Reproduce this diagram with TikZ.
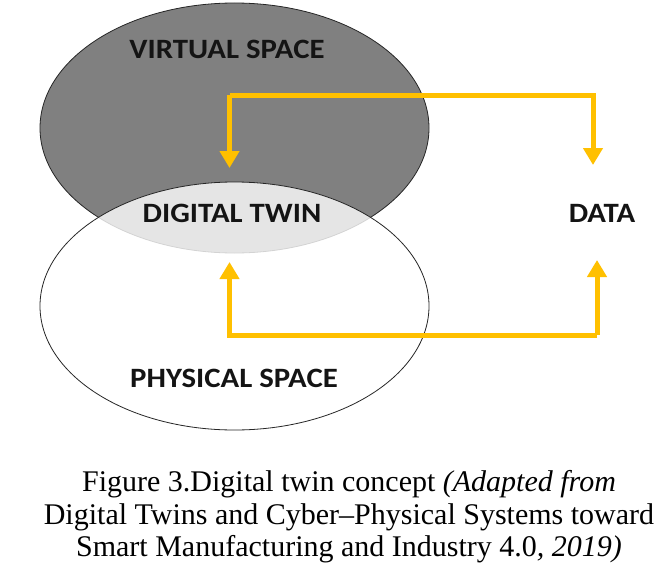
\documentclass[tikz,border=0pt]{standalone}
\usepackage{fontspec}
\setmainfont{Liberation Serif}
\newfontfamily\lblfont{Carlito}
\usetikzlibrary{arrows.meta}
\definecolor{flowgold}{HTML}{FFC000}
\definecolor{virtgray}{HTML}{808080}
\newcommand{\widelbl}[1]{\scalebox{1.1}[1]{#1}}
\tikzset{
  lbl/.style={font=\lblfont\bfseries\fontsize{28}{32}\selectfont, text=black!92, inner sep=0pt},
  flow/.style={draw=flowgold, line width=5pt, -{Triangle[width=19pt,length=17pt]}},
  captext/.style={font=\fontsize{30}{32.5}\selectfont, align=center, inner sep=0pt}
}
\begin{document}
\begin{tikzpicture}[x=1pt,y=-1pt]
\useasboundingbox (0,0) rectangle (663,578);
\fill[white] (0,0) rectangle (663,578);
% ellipses
\draw[fill=virtgray, draw=black!85, line width=0.8pt] (234.5,128) ellipse [x radius=194.5, y radius=125];
\draw[fill=white, fill opacity=0.8, draw=black!85, line width=0.8pt] (234.5,306) ellipse [x radius=194.5, y radius=124];
% labels
\node[lbl] (virt) at (227,49) {\widelbl{VIRTUAL SPACE}};
\node[lbl] (twin) at (232,213) {\widelbl{DIGITAL TWIN}};
\node[lbl] (data) at (602,213) {\widelbl{DATA}};
\node[lbl] (phys) at (234,378) {\widelbl{PHYSICAL SPACE}};
% arrow anchor coordinates
\coordinate (twintop) at (229.5,168);
\coordinate (twinbot) at (229.5,262);
\coordinate (datatop) at (593,165);
\coordinate (databot) at (597,260);
\draw[flow] (twintop |- 0,95) -- (twintop);
\draw[flow] (twintop |- 0,95) -- (datatop |- 0,95) -- (datatop);
\draw[flow] (databot |- 0,335) -- (twinbot |- 0,335) -- (twinbot);
\draw[flow] (databot |- 0,335) -- (databot);
% caption
\node[captext] (caption) at (349,517) {Figure 3.Digital twin concept \textit{(Adapted from}\\Digital Twins and Cyber–Physical Systems toward\\Smart Manufacturing and Industry 4.0\textit{, 2019)}};
\end{tikzpicture}
\end{document}
